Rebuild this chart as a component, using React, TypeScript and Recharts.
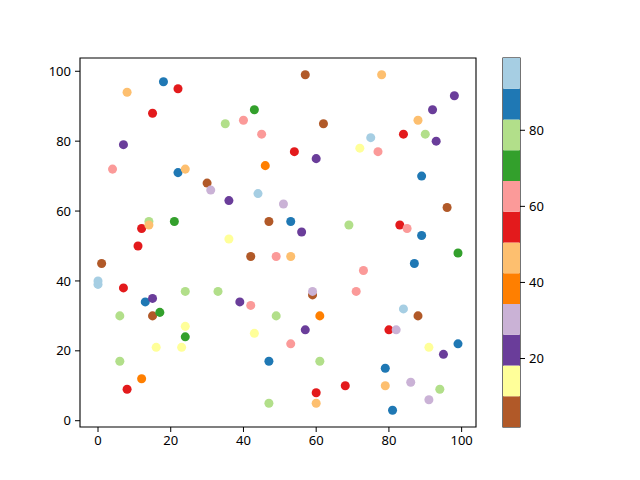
import React from 'react';
import {
  ScatterChart,
  Scatter,
  XAxis,
  YAxis,
  Cell,
  ReferenceArea,
  BarChart,
  Bar,
} from 'recharts';

// point positions
const xValues = [
  18, 8, 22, 15, 7, 4, 22, 24, 30, 31, 14, 12, 14, 21, 11, 1, 0, 0, 7, 13,
  15, 15, 17, 6, 24, 24, 24, 23, 16, 6, 12, 8, 57, 43, 35, 40, 45, 62, 46, 54,
  60, 36, 44, 51, 47, 53, 56, 36, 33, 42, 49, 53, 39, 42, 49, 43, 59, 59, 61, 57,
  53, 47, 61, 47, 60, 60, 68, 78, 98, 92, 88, 93, 90, 84, 75, 72, 77, 89, 96, 69,
  83, 85, 89, 99, 87, 71, 73, 84, 88, 80, 82, 91, 95, 99, 79, 79, 86, 94, 91, 81,
];
const yValues = [
  97, 94, 95, 88, 79, 72, 71, 72, 68, 66, 57, 55, 56, 57, 50, 45, 40, 39, 38, 34,
  35, 30, 31, 30, 37, 27, 24, 21, 21, 17, 12, 9, 99, 89, 85, 86, 82, 85, 73, 77,
  75, 63, 65, 62, 57, 57, 54, 52, 37, 47, 47, 47, 34, 33, 30, 25, 36, 37, 30, 26,
  22, 17, 17, 5, 8, 5, 10, 99, 93, 89, 86, 80, 82, 82, 81, 78, 77, 70, 61, 56,
  56, 55, 53, 48, 45, 37, 43, 32, 30, 26, 26, 21, 19, 22, 15, 10, 11, 9, 6, 3,
];
// colour values
const colorValues = [
  87, 46, 54, 54, 22, 63, 87, 46, 6, 30, 79, 54, 46, 71, 54, 6, 95, 99, 54, 87,
  22, 6, 71, 79, 79, 14, 71, 14, 14, 79, 38, 54, 6, 71, 79, 63, 63, 6, 38, 54,
  22, 22, 95, 30, 6, 87, 22, 14, 79, 6, 63, 46, 22, 63, 79, 14, 2, 30, 38, 22,
  63, 87, 79, 79, 54, 46, 54, 46, 22, 22, 46, 22, 79, 54, 95, 14, 63, 87, 6, 79,
  54, 63, 87, 71, 87, 63, 63, 95, 6, 54, 30, 14, 22, 87, 87, 46, 30, 79, 30, 87,
];

const xTicks = [0, 20, 40, 60, 80, 100];
const yTicks = [0, 20, 40, 60, 80, 100];
const colorbarTicks = [20, 40, 60, 80];

// Paired colormap, reversed
const PAIRED_R = [
  '#b15928', '#ffff99', '#6a3d9a', '#cab2d6', '#ff7f00', '#fdbf6f',
  '#e31a1c', '#fb9a99', '#33a02c', '#b2df8a', '#1f78b4', '#a6cee3',
];

const C_MIN = Math.min(...colorValues);
const C_MAX = Math.max(...colorValues);
const N_BINS = PAIRED_R.length;

function colorFor(c: number) {
  const idx = Math.floor(((c - C_MIN) / (C_MAX - C_MIN)) * N_BINS);
  return PAIRED_R[Math.min(N_BINS - 1, Math.max(0, idx))];
}

const X_DOMAIN: [number, number] = [-4.95, 103.95];
const Y_DOMAIN: [number, number] = [-1.8, 103.8];

const FONT = '"Noto Sans", "DejaVu Sans", sans-serif';
const tickStyle = { fill: '#000', fontSize: 13, fontFamily: FONT };

export default function App() {
  const points = xValues.map((x, i) => ({ x, y: yValues[i], c: colorValues[i] }));

  // colorbar: one stacked column, an invisible base then one segment per bin
  const binWidth = (C_MAX - C_MIN) / N_BINS;
  const cbarRow: Record<string, number | string> = { name: 'cbar', base: C_MIN };
  PAIRED_R.forEach((_, i) => {
    cbarRow[`s${i}`] = binWidth;
  });

  return (
    <div
      style={{
        position: 'fixed',
        left: 0,
        top: 0,
        width: 640,
        height: 480,
        background: '#fff',
      }}
    >
      <div style={{ position: 'absolute', left: 0, top: 0 }}>
        <ScatterChart
          width={640}
          height={480}
          margin={{ top: 58, right: 164, bottom: 13, left: 40 }}
        >
          <XAxis
            type="number"
            dataKey="x"
            domain={X_DOMAIN}
            ticks={xTicks}
            height={40}
            axisLine={false}
            tickLine={{ stroke: '#000', strokeWidth: 1 }}
            tickSize={5}
            tickMargin={4}
            tick={tickStyle}
            allowDataOverflow
          />
          <YAxis
            type="number"
            dataKey="y"
            domain={Y_DOMAIN}
            ticks={yTicks}
            width={40}
            axisLine={false}
            tickLine={{ stroke: '#000', strokeWidth: 1 }}
            tickSize={5}
            tickMargin={4}
            tick={tickStyle}
            allowDataOverflow
          />
          <Scatter data={points} isAnimationActive={false} shape="circle">
            {points.map((p, idx) => (
              <Cell key={`pt-${idx}`} fill={colorFor(p.c)} />
            ))}
          </Scatter>
          <ReferenceArea
            x1={X_DOMAIN[0]}
            x2={X_DOMAIN[1]}
            y1={Y_DOMAIN[0]}
            y2={Y_DOMAIN[1]}
            fill="none"
            stroke="#000"
            strokeWidth={1.1}
          />
        </ScatterChart>
      </div>

      {/* Colorbar */}
      <div style={{ position: 'absolute', left: 502, top: 57 }}>
        <BarChart
          width={1 + 17 + 50}
          height={371}
          data={[cbarRow]}
          margin={{ top: 1, right: 0, bottom: 1, left: 1 }}
          barCategoryGap={0}
        >
          <XAxis dataKey="name" hide />
          <YAxis
            orientation="right"
            type="number"
            domain={[C_MIN, C_MAX]}
            ticks={colorbarTicks}
            width={50}
            axisLine={false}
            tickLine={{ stroke: '#000', strokeWidth: 1 }}
            tickSize={5}
            tickMargin={4}
            tick={tickStyle}
            allowDataOverflow
          />
          <Bar dataKey="base" stackId="cb" fill="none" isAnimationActive={false} />
          {PAIRED_R.map((col, i) => (
            <Bar
              key={`s${i}`}
              dataKey={`s${i}`}
              stackId="cb"
              fill={col}
              isAnimationActive={false}
            />
          ))}
          <ReferenceArea
            y1={C_MIN}
            y2={C_MAX}
            fill="none"
            stroke="#000"
            strokeWidth={1.1}
            ifOverflow="visible"
          />
        </BarChart>
      </div>
    </div>
  );
}
